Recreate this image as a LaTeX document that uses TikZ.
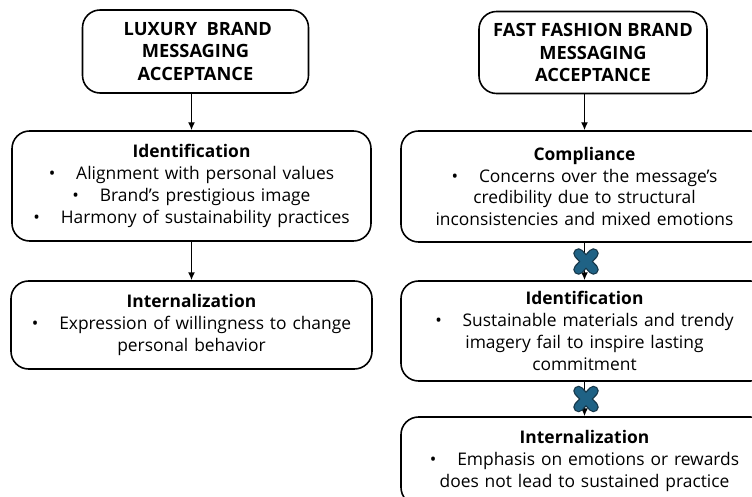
\documentclass[tikz,border=0pt]{standalone}
\usepackage{fontspec}
\setmainfont{Open Sans}
\usetikzlibrary{arrows.meta,calc}

\definecolor{crossblue}{HTML}{1F6285}
\definecolor{crossline}{HTML}{17384A}

% bullet with the wide gap after it
\newcommand{\bul}{•\hspace{1.2em}}
\newcommand{\widespace}{\spaceskip=0.34em plus 0.1em\relax}

% blocked step: a thick blue cross with a dark rim
\newcommand{\blockmark}[1]{
	\draw[crossline, line width=6pt, line cap=round]
		($(#1)+(-0.15,0.16)$) -- ($(#1)+(0.15,-0.16)$)
		($(#1)+(-0.15,-0.16)$) -- ($(#1)+(0.15,0.16)$);
	\draw[crossblue, line width=4.5pt, line cap=round]
		($(#1)+(-0.15,0.16)$) -- ($(#1)+(0.15,-0.16)$)
		($(#1)+(-0.15,-0.16)$) -- ($(#1)+(0.15,0.16)$);
}

\begin{document}
\begin{tikzpicture}[
			every node/.style={draw, line width=0.9pt, rounded corners=10pt, align=center, inner sep=2pt,
				font=\fontsize{9.9}{12.4}\selectfont\widespace},
			head/.style={font=\bfseries\fontsize{10.4}{12.6}\selectfont},
			link/.style={line width=0.8pt, -{Latex[length=4.5pt,width=4pt]}},
		]
		\useasboundingbox[fill=white] (0,0) rectangle (15.04,-9.94);
		\clip (0,0) rectangle (15.04,-9.94);

		% luxury side
		\node[head, minimum width=4.52cm, minimum height=1.66cm] (lux) at (3.91,-1.03)
			{~LUXURY~~BRAND\\MESSAGING\\ACCEPTANCE};
		\node[minimum width=7.18cm, minimum height=2.2cm] (luxid) at (3.83,-3.72)
			{\textbf{Identification}\\
			 \bul Alignment with personal values\\
			 \bul Brand's prestigious image\\
			 \bul Harmony of sustainability practices};
		\node[minimum width=7.22cm, minimum height=1.76cm] (luxint) at (3.83,-6.5)
			{\textbf{Internalization}\\
			 \bul Expression of willingness to change\\
			 personal behavior};

		% fast fashion side
		\node[head, minimum width=4.56cm, minimum height=1.64cm] (ff) at (11.86,-1.05)
			{FAST~FASHION~BRAND\\MESSAGING\\ACCEPTANCE};
		\node[minimum width=7.34cm, minimum height=2.22cm] (ffcomp) at (11.69,-3.73)
			{\textbf{Compliance}\\
			 \bul Concerns over the message’s\\
			 credibility due to structural\\
			 inconsistencies and mixed emotions};
		\node[minimum width=7.34cm, minimum height=2.0cm] (ffid) at (11.69,-6.62)
			{\textbf{Identification}\\
			 \bul Sustainable materials and trendy\\
			 imagery fail to inspire lasting\\
			 commitment};
		\node[minimum width=7.34cm, minimum height=1.76cm] (ffint) at (11.69,-9.22)
			{\textbf{Internalization}\\
			 \bul Emphasis on emotions or rewards\\
			 does not lead to sustained practice};

		\draw[link] (lux.south -| luxid.north) -- (luxid.north);
		\draw[link] (luxid.south) -- (luxint.north);
		\draw[link] (ff.south -| ffcomp.north) -- (ffcomp.north);
		\draw[link] (ffcomp.south) -- (ffid.north);
		\draw[link] (ffid.south) -- (ffint.north);

		\coordinate (stop1) at ($(ffcomp.south)!0.5!(ffid.north)+(0.03,0)$);
		\coordinate (stop2) at ($(ffid.south)!0.5!(ffint.north)+(0.03,0)$);
		\blockmark{stop1}
		\blockmark{stop2}
\end{tikzpicture}
\end{document}
